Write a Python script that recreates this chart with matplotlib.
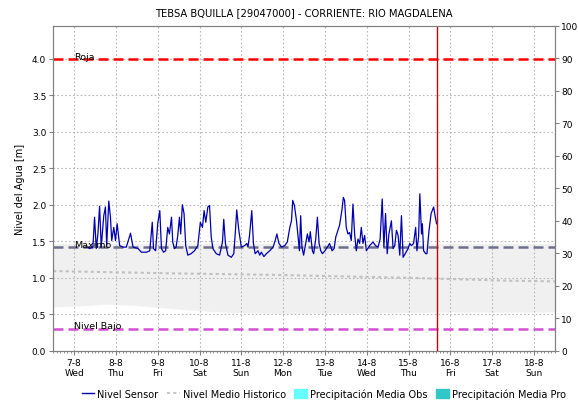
import pandas as pd
import matplotlib.pyplot as plt
import matplotlib.dates as mdates
from matplotlib.lines import Line2D
from matplotlib.patches import Patch

plt.rcParams["font.family"] = "DejaVu Sans"

# sensor readings: day of August (fractional) and water level [m]
sensor_day = [
    7.33, 7.37, 7.45, 7.49, 7.53, 7.57, 7.61, 7.65, 7.71, 7.75, 7.78, 7.83,
    7.87, 7.90, 7.95, 7.99, 8.03, 8.09, 8.17, 8.25, 8.35, 8.41, 8.53, 8.61,
    8.73, 8.81, 8.87, 8.90, 8.95, 9.00, 9.05, 9.09, 9.14, 9.19, 9.24, 9.28,
    9.33, 9.36, 9.40, 9.44, 9.48, 9.52, 9.55, 9.59, 9.63, 9.67, 9.72, 9.80,
    9.88, 9.96, 10.02, 10.07, 10.11, 10.15, 10.20, 10.24, 10.28, 10.32, 10.40,
    10.48, 10.55, 10.58, 10.62, 10.68, 10.76, 10.82, 10.86, 10.89, 10.94,
    11.00, 11.08, 11.13, 11.16, 11.20, 11.25, 11.29, 11.33, 11.40, 11.44,
    11.48, 11.54, 11.60, 11.68, 11.76, 11.81, 11.85, 11.90, 11.96, 12.04,
    12.10, 12.16, 12.20, 12.23, 12.27, 12.32, 12.35, 12.39, 12.42, 12.45,
    12.49, 12.53, 12.58, 12.62, 12.65, 12.70, 12.73, 12.78, 12.82, 12.86,
    12.90, 12.94, 13.00, 13.06, 13.11, 13.17, 13.22, 13.26, 13.31, 13.35,
    13.41, 13.44, 13.47, 13.51, 13.55, 13.59, 13.63, 13.67, 13.71, 13.75,
    13.79, 13.83, 13.87, 13.91, 13.95, 13.99, 14.07, 14.15, 14.21, 14.27,
    14.32, 14.37, 14.41, 14.45, 14.49, 14.53, 14.59, 14.63, 14.67, 14.71,
    14.75, 14.79, 14.83, 14.87, 14.92, 14.99, 15.03, 15.07, 15.12, 15.17,
    15.20, 15.24, 15.27, 15.31, 15.33, 15.36, 15.41, 15.44, 15.49, 15.54,
    15.60, 15.64, 15.67,
]
sensor_level = [
    1.42, 1.40, 1.42, 1.83, 1.40, 1.60, 1.98, 1.42, 1.85, 1.97, 1.44, 2.05,
    1.83, 1.51, 1.69, 1.51, 1.74, 1.44, 1.42, 1.42, 1.61, 1.42, 1.40, 1.35,
    1.35, 1.37, 1.76, 1.40, 1.37, 1.74, 1.92, 1.40, 1.35, 1.37, 1.69, 1.60,
    1.83, 1.49, 1.40, 1.42, 1.58, 1.83, 1.60, 2.00, 1.88, 1.44, 1.31, 1.33,
    1.37, 1.44, 1.76, 1.69, 1.92, 1.76, 1.97, 1.99, 1.56, 1.40, 1.33,
    1.31, 1.49, 1.80, 1.47, 1.31, 1.28, 1.33, 1.65, 1.93, 1.65,
    1.42, 1.44, 1.47, 1.42, 1.60, 1.92, 1.47, 1.33, 1.37, 1.31,
    1.35, 1.29, 1.33, 1.37, 1.42, 1.51, 1.60, 1.47, 1.42, 1.44,
    1.49, 1.69, 1.78, 2.06, 1.99, 1.78, 1.60, 1.37, 1.85, 1.42,
    1.31, 1.44, 1.60, 1.49, 1.63, 1.37, 1.33, 1.53, 1.83, 1.47,
    1.37, 1.33, 1.37, 1.42, 1.47, 1.37, 1.40, 1.56, 1.65, 1.72,
    1.94, 2.10, 2.06, 1.69, 1.60, 1.62, 1.51, 2.01, 1.60, 1.37,
    1.53, 1.47, 1.69, 1.47, 1.58, 1.37, 1.44, 1.49, 1.44, 1.42,
    1.53, 2.08, 1.42, 1.88, 1.33, 1.60, 1.78, 1.40, 1.44, 1.65,
    1.58, 1.31, 1.85, 1.28, 1.33, 1.40, 1.47, 1.44, 1.47, 1.69,
    1.37, 1.56, 2.15, 1.60, 1.74, 1.37, 1.33, 1.33, 1.65, 1.88,
    1.97, 1.83, 1.74,
]

# historic median level and its band
hist_day = [6.5, 6.65, 9.36, 11.75, 14.95, 17.35, 18.5]
hist_level = [1.09, 1.09, 1.06, 1.04, 1.00, 0.96, 0.95]
band_day = [6.5, 7.0, 7.8, 8.5, 9.5, 10.5, 12.0, 14.0, 16.0, 18.5]
band_low = [0.60, 0.61, 0.64, 0.62, 0.57, 0.53, 0.51, 0.52, 0.53, 0.53]
band_high = [1.47, 1.47, 1.47, 1.47, 1.47, 1.47, 1.47, 1.47, 1.47, 1.47]

# alert thresholds [m]
nivel_roja = 4.0
nivel_maximo = 1.42
nivel_bajo = 0.30
ahora = 15.67

base = pd.Timestamp("2019-08-01")


def to_time(days):
    return [base + pd.Timedelta(days=d - 1) for d in days]


fig = plt.figure(figsize=(5.78, 4.02), dpi=100)
ax = fig.add_axes([0.092, 0.125, 0.868, 0.808])

ax.fill_between(to_time(band_day), band_low, band_high, color="#f0f0f0", lw=0, zorder=1)
ax.plot(to_time(hist_day), hist_level, color="#c0c0c0", lw=1.5, ls=(0, (1.5, 1.5)), zorder=2)

ax.axhline(nivel_roja, color="#ff0000", lw=1.8, ls=(0, (4, 2)), zorder=3)
ax.axhline(nivel_maximo, color="#70708a", lw=1.8, ls=(0, (4, 2)), zorder=3)
ax.axhline(nivel_bajo, color="#d24fd2", lw=1.8, ls=(0, (4, 2)), zorder=3)

ax.plot(to_time(sensor_day), sensor_level, color="#0000b0", lw=0.9, zorder=4)
ax.axvline(to_time([ahora])[0], color="#cc0000", lw=1.0, zorder=5)

x0 = to_time([7.0])[0]
ax.text(x0, nivel_roja - 0.03, "Roja", fontsize=6.8, va="bottom", zorder=6)
ax.text(x0, nivel_maximo - 0.03, "Maximo", fontsize=6.8, va="bottom", zorder=6)
ax.text(x0, nivel_bajo - 0.01, "Nivel Bajo", fontsize=6.8, va="bottom", zorder=6)

ax.set_xlim(to_time([6.5])[0], to_time([18.5])[0])
ax.set_ylim(0, 4.45)
ax.set_yticks([i * 0.5 for i in range(9)])
ax.yaxis.set_major_formatter(plt.FormatStrFormatter("%.1f"))
ax.xaxis.set_major_locator(mdates.DayLocator())
ax.xaxis.set_minor_locator(mdates.HourLocator(byhour=range(0, 24, 2)))
ax.xaxis.set_major_formatter(plt.FuncFormatter(
    lambda v, p: mdates.num2date(v).strftime("%-d-%-m\n%a")))
ax.grid(True, which="major", color="#b8b8b8", ls=(0, (1.5, 2)), lw=0.8, zorder=0)
ax.tick_params(labelsize=6.5, length=3, pad=2, color="#808080")
ax.tick_params(axis="x", which="minor", length=1.5, color="#808080")
ax.set_ylabel("Nivel del Agua [m]", fontsize=7, labelpad=5)
ax.set_title("TEBSA BQUILLA [29047000] - CORRIENTE: RIO MAGDALENA", fontsize=7.2, pad=8)
for s in ax.spines.values():
    s.set_color("#808080")

ax2 = ax.twinx()
ax2.set_ylim(0, 100)
ax2.set_yticks(range(0, 101, 10))
ax2.tick_params(labelsize=6.5, length=3, pad=1.5, color="#808080")
for s in ax2.spines.values():
    s.set_color("#808080")

handles = [
    Line2D([], [], color="#0000b0", lw=1),
    Line2D([], [], color="#c8c8c8", lw=1.5, ls=(0, (1.5, 1.5))),
    Patch(color="#66ffff"),
    Patch(color="#33c6c6"),
]
labels = ["Nivel Sensor", "Nivel Medio Historico",
          "Precipitación Media Obs", "Precipitación Media Pro"]
fig.legend(handles, labels, loc="lower center", bbox_to_anchor=(0.56, -0.017), ncol=4,
           frameon=False, fontsize=7, handlelength=1.3, handleheight=1.0,
           handletextpad=0.3, columnspacing=0.9)

fig.savefig("out.png", dpi=100)
